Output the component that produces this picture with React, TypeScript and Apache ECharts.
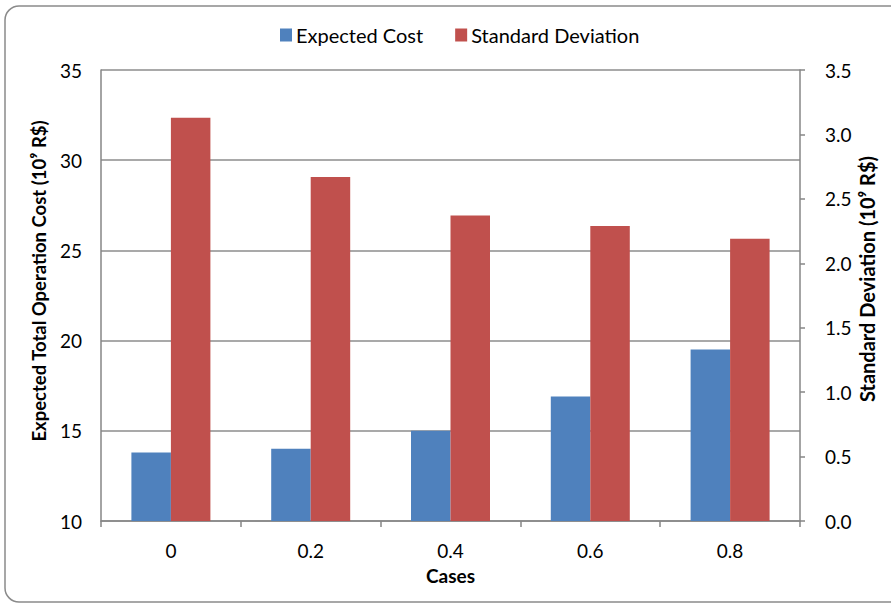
import React, { useEffect, useRef } from "react";
import * as echarts from "echarts";

const cases = ["0", "0.2", "0.4", "0.6", "0.8"];
const expectedCost = [13.8, 14.0, 15.0, 16.9, 19.5];
const standardDeviation = [3.13, 2.67, 2.37, 2.29, 2.19];
const costTicks = { min: 10, max: 35, interval: 5 };
const sdTicks = { min: 0, max: 3.5, interval: 0.5 };

const FONT = "Lato, 'Open Sans', sans-serif";
const AXIS_GRAY = "#868686";
const TEXT = "#000000";

export default function App() {
  const ref = useRef<HTMLDivElement>(null);

  useEffect(() => {
    if (!ref.current) return;
    const chart = echarts.init(ref.current, undefined, { renderer: "svg" });
    chart.setOption({
      animation: false,
      backgroundColor: "#ffffff",
      textStyle: { fontFamily: FONT },
      grid: { left: 101, right: 91, top: 70, bottom: 82, containLabel: false },
      legend: {
        top: 20,
        left: 275,
        itemWidth: 12,
        itemHeight: 13,
        itemGap: 32,
        icon: "rect",
        textStyle: { fontFamily: FONT, fontSize: 20, color: TEXT, padding: [0, 0, 0, -1] },
        data: ["Expected Cost", "Standard Deviation"],
      },
      graphic: [
        {
          type: "rect",
          silent: true,
          shape: { x: 5, y: 6, width: 900, height: 596, r: 14 },
          style: { fill: "none", stroke: "#8a8a8a", lineWidth: 1.5 },
          z: -1,
        },
        {
          type: "text",
          x: 39,
          y: 281,
          rotation: Math.PI / 2,
          style: {
            text: "Expected Total Operation Cost (10⁹ R$)",
            fontFamily: FONT,
            fontSize: 18.5,
            fontWeight: "bold",
            fill: TEXT,
            align: "center",
            verticalAlign: "middle",
          },
        },
        {
          type: "text",
          x: 867,
          y: 279,
          rotation: Math.PI / 2,
          style: {
            text: "Standard Deviation (10⁹ R$)",
            fontFamily: FONT,
            fontSize: 20,
            fontWeight: "bold",
            fill: TEXT,
            align: "center",
            verticalAlign: "middle",
          },
        },
      ],
      xAxis: {
        type: "category",
        data: cases,
        name: "Cases",
        nameLocation: "middle",
        nameGap: 45,
        nameTextStyle: { fontFamily: FONT, fontSize: 19, fontWeight: "bold", color: TEXT },
        axisLine: { lineStyle: { color: AXIS_GRAY, width: 1.5 } },
        axisTick: { show: true, length: 6, lineStyle: { color: AXIS_GRAY, width: 1.5 } },
        axisLabel: { margin: 20, fontSize: 19, color: TEXT, fontFamily: FONT },
      },
      yAxis: [
        {
          type: "value",
          min: costTicks.min,
          max: costTicks.max,
          interval: costTicks.interval,
          axisLine: { show: true, lineStyle: { color: AXIS_GRAY, width: 1.5 } },
          axisTick: { show: false },
          axisLabel: { margin: 19, fontSize: 19, color: TEXT, fontFamily: FONT },
          splitLine: { show: true, lineStyle: { color: "#8c8c8c", width: 1.5 } },
        },
        {
          type: "value",
          position: "right",
          min: sdTicks.min,
          max: sdTicks.max,
          interval: sdTicks.interval,
          axisLine: { show: true, lineStyle: { color: AXIS_GRAY, width: 1.5 } },
          axisTick: { show: true, length: 5, lineStyle: { color: AXIS_GRAY, width: 1.5 } },
          axisLabel: {
            margin: 25,
            fontSize: 19,
            color: TEXT,
            fontFamily: FONT,
            formatter: (v: number) => v.toFixed(1),
          },
          splitLine: { show: false },
        },
      ],
      series: [
        {
          name: "Expected Cost",
          type: "bar",
          yAxisIndex: 0,
          data: expectedCost,
          barWidth: 39.5,
          barGap: "0%",
          itemStyle: { color: "#4F81BD" },
        },
        {
          name: "Standard Deviation",
          type: "bar",
          yAxisIndex: 1,
          data: standardDeviation,
          barWidth: 39.5,
          barGap: "0%",
          itemStyle: { color: "#C0504D" },
        },
      ],
    });
    return () => chart.dispose();
  }, []);

  return (
    <div
      ref={ref}
      style={{ position: "fixed", left: 0, top: 0, width: 891, height: 603 }}
    />
  );
}
